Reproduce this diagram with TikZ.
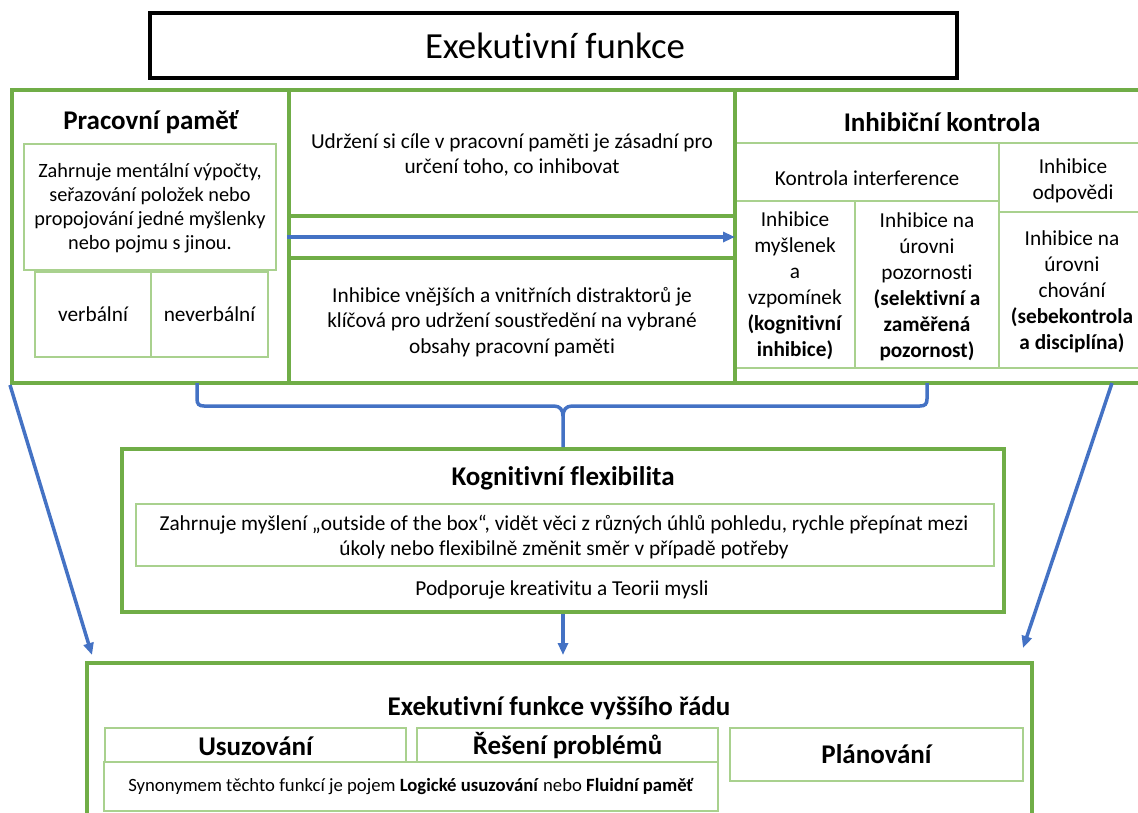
\documentclass[tikz,border=0pt]{standalone}
\usepackage{fontspec}
\setmainfont{Carlito}[Ligatures=NoCommon]
\usetikzlibrary{arrows.meta,fit,calc}
\definecolor{gdark}{HTML}{70AD47}
\definecolor{glight}{HTML}{A9D18E}
\definecolor{bl}{HTML}{4472C4}
\newcommand\fbody{\fontsize{21.3}{25.5}\selectfont}
\newcommand\fcol{\fontsize{21.3}{26}\selectfont}
\newcommand\fhead{\fontsize{27}{32}\selectfont\bfseries}
\newcommand\ftitle{\fontsize{36.8}{44}\selectfont}
\newcommand\fsmall{\fontsize{18.7}{22}\selectfont}
\begin{document}
\begin{tikzpicture}[x=1pt,y=-1pt,
  frame/.style={draw=gdark,line width=4pt,inner sep=0pt},
  thinbox/.style={draw=glight,line width=1.2pt,inner sep=0pt},
  thin/.style={draw=glight,line width=1.2pt},
  conn/.style={draw=bl,line width=3.5pt},
  arr/.style={conn,-{Triangle[length=12pt,width=10pt]}},
  txt/.style={align=center,inner sep=0pt,text=black}]
\useasboundingbox (0,0) rectangle (1138,812);
\clip (0,0) rectangle (1138,812);

% title
\node[draw=black,line width=4pt,inner sep=0pt,fit={(150,13)(957,78)}] (title) {};
\node[txt,font=\ftitle] (titletxt) at (555,46) {Exekutivní funkce};

% top frames
\node[frame,fit={(12,90)(289,383)}] (wm) {};
\node[frame,fit={(289,90)(735,216)}] (midtop) {};
\node[frame,fit={(289,216)(735,258)}] (mida) {};
\node[frame,fit={(289,258)(735,383)}] (midbot) {};
\node[frame,fit={(735,90)(1160,383)}] (ic) {};

% working memory
\node[txt,font=\fhead] (wmhead) at (151,122) {Pracovní paměť};
\node[thinbox,fit={(24,144)(276,270)}] (wmbox) {};
\node[txt,font={\fontsize{20.3}{24}\selectfont}] (wmtxt) at (150,208)
  {Zahrnuje mentální výpočty,\\seřazování položek nebo\\propojování jedné myšlenky\\nebo pojmu s jinou.};
\node[thinbox,fit={(35,272)(151,357)}] (verb) {};
\node[thinbox,fit={(151,272)(268,357)}] (nverb) {};
\node[txt,font=\fbody] at (verb.center) {verbální};
\node[txt,font=\fbody] at (nverb.center) {neverbální};

% middle column
\node[txt,font=\fbody] (mid1) at (512,155)
  {Udržení si cíle v pracovní paměti je zásadní pro\\určení toho, co inhibovat};
\node[txt,font=\fbody] (mid2) at (512,322)
  {Inhibice vnějších a vnitřních distraktorů je\\klíčová pro udržení soustředění na vybrané\\obsahy pracovní paměti};
\draw[arr,shorten >=2pt] (mida.west) -- (mida.east);

% inhibitory control
\node[txt,font=\fhead] (ichead) at (942,122) {Inhibiční kontrola};
\draw[thin] (737,143) -- (1140,143);
\draw[thin] (737,201) -- (999,201);
\draw[thin] (999,143) -- (999,368);
\draw[thin] (855,201) -- (855,368);
\draw[thin] (999,212) -- (1140,212);
\draw[thin] (737,368) -- (1140,368);
\node[txt,font=\fbody] (kint) at (867,178) {Kontrola interference};
\node[txt,font=\fbody] (iodp) at (1073,181) {Inhibice\\odpovědi};
\node[txt,font=\fcol] (c1) at (795,286)
  {Inhibice\\myšlenek\\a\\vzpomínek\\\textbf{(kognitivní}\\\textbf{inhibice)}};
\node[txt,font=\fcol] (c2) at (927,287)
  {Inhibice na\\úrovni\\pozornosti\\\textbf{(selektivní a}\\\textbf{zaměřená}\\\textbf{pozornost)}};
\node[txt,font=\fcol] (c3) at (1072,292)
  {Inhibice na\\úrovni\\chování\\\textbf{(sebekontrola}\\\textbf{a disciplína)}};

% cognitive flexibility
\node[frame,fit={(122,449)(1004,612)}] (kf) {};
\node[txt,font=\fhead] (kfhead) at (563,478) {Kognitivní flexibilita};
\node[thinbox,fit={(136,504)(994,566)}] (kfbox) {};
\node[txt,font=\fbody] (kftxt) at (564,537)
  {Zahrnuje myšlení „outside of the box“, vidět věci z různých úhlů pohledu, rychle přepínat mezi\\úkoly nebo flexibilně změnit směr v případě potřeby};
\node[txt,font=\fbody] (kfsub) at (562,590) {Podporuje kreativitu a Teorii mysli};

% higher-order executive functions
\node[frame,fit={(87,663)(1032,840)}] (hof) {};
\node[txt,font=\fhead] (hofhead) at (559,708) {Exekutivní funkce vyššího řádu};
\node[thinbox,fit={(105,728)(406,762)}] (usuz) {};
\node[thinbox,fit={(417,728)(718,762)}] (res) {};
\node[thinbox,fit={(730,728)(1023,781)}] (plan) {};
\node[thinbox,fit={(104,762)(718,811)}] (syn) {};
\node[txt,font=\fhead] at ($(usuz.center)+(0,1)$) {Usuzování};
\node[txt,font=\fhead] at ($(res.center)+(0,1)$) {Řešení problémů};
\node[txt,font=\fhead] at (plan.center) {Plánování};
\node[txt,font=\fsmall] at (411,787)
  {Synonymem těchto funkcí je pojem \textbf{Logické usuzování} nebo \textbf{Fluidní paměť}};

% connectors
\coordinate (bL) at (197,383);
\coordinate (bR) at (927,383);
\draw[conn] (bL) -- (197,399) .. controls (197,404) and (199,406) .. (204,406)
  -- (554,406) .. controls (560,406) and (563,410) .. (563,416) -- (kf.north);
\draw[conn] (bR) -- (927,399) .. controls (927,404) and (925,406) .. (920,406)
  -- (572,406) .. controls (566,406) and (563,410) .. (563,416);
\coordinate (tipL) at (92,655);
\coordinate (tipM) at (563,655);
\coordinate (sR) at (1112,383);
\coordinate (tipR) at (1023,648);
\draw[arr] (wm.south west) -- (tipL);
\draw[arr] (kf.south) -- (tipM);
\draw[arr] (sR) -- (tipR);
\end{tikzpicture}
\end{document}
